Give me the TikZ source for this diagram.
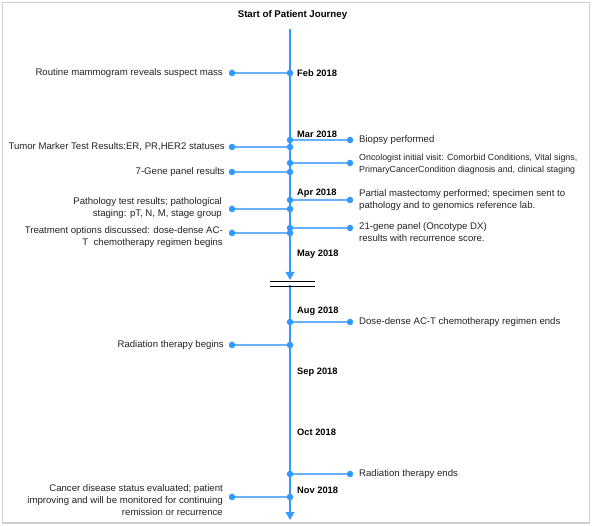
\documentclass[tikz,border=0pt]{standalone}
\usepackage{fontspec}
\setmainfont{Liberation Sans}
\usetikzlibrary{arrows.meta}
\definecolor{mainblue}{HTML}{3399FF}
\definecolor{lightblue}{HTML}{66B2FF}
\definecolor{framegray}{HTML}{D0D0D0}
\definecolor{txt}{HTML}{222222}
\tikzset{
  dotnode/.style={circle,fill=mainblue,inner sep=0pt,minimum size=6.5pt},
  axisline/.style={draw=mainblue,line width=2.2pt},
  linkline/.style={draw=lightblue,line width=1.1pt},
  month/.style={anchor=west,inner sep=0pt,font=\fontsize{9.3}{11}\selectfont\bfseries,text=black},
  lefttext/.style={anchor=east,inner sep=0pt,align=right,font=\fontsize{9.6}{12}\selectfont,text=txt},
  righttext/.style={anchor=west,inner sep=0pt,align=left,font=\fontsize{9.6}{12.5}\selectfont,text=txt},
  smalltext/.style={anchor=west,inner sep=0pt,align=left,font=\fontsize{8.85}{12}\selectfont,text=txt},
  breakline/.style={draw=black,line width=0.9pt},
}
\begin{document}
\begin{tikzpicture}[x=1pt,y=-1pt]
\useasboundingbox (0,0) rectangle (592,526);
\draw[framegray,line width=1.4pt] (2.5,2.5) rectangle (589.5,523);
\node[font=\fontsize{9.7}{11}\selectfont\bfseries,inner sep=0pt] (title) at (292.5,15) {Start of Patient Journey};
% axis
\coordinate (top) at (290,29);
\coordinate (brk) at (290,280);
\coordinate (brk2) at (290,285);
\coordinate (bot) at (290,520);
\draw[axisline,-{Triangle[width=8.5pt,length=8pt]}] (top) -- (brk);
\draw[axisline,-{Triangle[width=8.5pt,length=8pt]}] (brk2) -- (bot);
\coordinate (b1l) at (270,281); \coordinate (b1r) at (315,281);
\coordinate (b2l) at (270,286); \coordinate (b2r) at (315,286);
\draw[breakline] (b1l) -- (b1r);
\draw[breakline] (b2l) -- (b2r);
% months
\node[month] (feb) at (297,73) {Feb 2018};
\node[month] (mar) at (297,134) {Mar 2018};
\node[month] (apr) at (297,193) {Apr 2018};
\node[month] (may) at (297,254) {May 2018};
\node[month] (aug) at (297,311) {Aug 2018};
\node[month] (sep) at (297,372) {Sep 2018};
\node[month] (oct) at (297,432) {Oct 2018};
\node[month] (nov) at (297,490) {Nov 2018};
% left events
\foreach \n/\y in {e1/73,e3/147,e5/172,e7/209,e9/233,e11/345,e13/497}{
  \node[dotnode] (\n a) at (290,\y) {};
  \node[dotnode] (\n b) at (232,\y) {};
  \draw[linkline] (\n b) -- (\n a);
}
% right events
\foreach \n/\y in {e2/140,e4/163,e6/200,e8/228,e10/322,e12/474}{
  \node[dotnode] (\n a) at (290,\y) {};
  \node[dotnode] (\n b) at (350,\y) {};
  \draw[linkline] (\n a) -- (\n b);
}
\node[lefttext] (t1) at (223,73) {Routine mammogram reveals suspect mass};
\node[lefttext] (t3) at (225,147) {Tumor Marker Test Results:ER, PR,HER2 statuses};
\node[lefttext] (t5) at (225,172) {7-Gene panel results};
\node[lefttext] (t7) at (222,208) {Pathology test results; pathological\\staging: pT, N, M, stage group};
\node[lefttext] (t9) at (223,237) {Treatment options discussed: dose-dense AC-\\T\ \ chemotherapy regimen begins};
\node[lefttext] (t11) at (224,345) {Radiation therapy begins};
\node[lefttext] (t13) at (223,500) {Cancer disease status evaluated; patient\\improving and will be monitored for continuing\\remission or recurrence};
\node[righttext] (t2) at (359,140) {Biopsy performed};
\node[smalltext] (t4) at (359,164) {Oncologist initial visit: Comorbid Conditions, Vital signs,\\PrimaryCancerCondition diagnosis and, clinical staging};
\node[righttext] (t6) at (359,200) {Partial mastectomy performed; specimen sent to\\pathology and to genomics reference lab.};
\node[righttext] (t8) at (359,232) {21-gene panel (Oncotype DX)\\results with recurrence score.};
\node[righttext] (t10) at (359,322) {Dose-dense AC-T chemotherapy regimen ends};
\node[righttext] (t12) at (359,474) {Radiation therapy ends};
\end{tikzpicture}
\end{document}
